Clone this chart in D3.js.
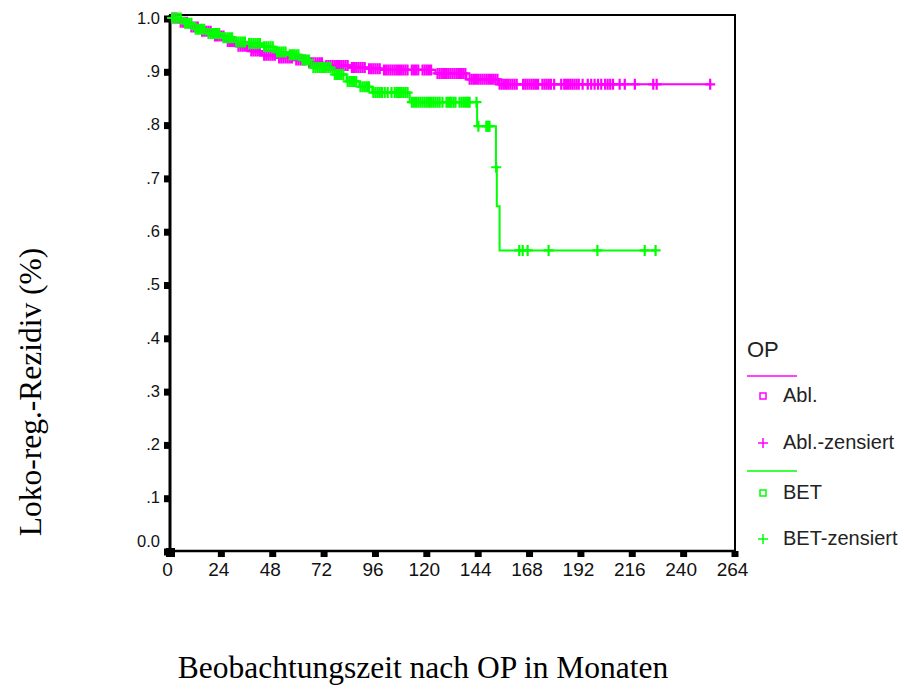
<!DOCTYPE html>
<html>
<head>
<meta charset="utf-8">
<script src="https://cdn.jsdelivr.net/npm/d3@7"></script>
<style>
  body { margin: 0; background: #fff; }
</style>
</head>
<body>
<div id="chart"></div>
<script>
// --- data ---
var xTicks = [0, 24, 48, 72, 96, 120, 144, 168, 192, 216, 240, 264];
var yTicks = [0, .1, .2, .3, .4, .5, .6, .7, .8, .9, 1];
var yTickLabels = ['0.0', '.1', '.2', '.3', '.4', '.5', '.6', '.7', '.8', '.9', '1.0'];

// Abl. : event times (months) and survival after each event
var ablTimes = [0, 4, 9, 14, 20, 26, 31, 37, 43, 50, 58, 64, 72, 84, 92, 99, 124, 138.5, 153.5];
var ablSurv  = [1.0, .992, .983, .975, .966, .956, .947, .938, .930, .925, .921, .916, .911, .907, .905, .9026, .896, .885, .8756];
var ablEnd = 252.4;
var ablCensored = [1,2,3,5,6,7,8,10,11,12,13,15,16,17,18,19,21,22,23,24,25,27,28,29,30,32,33,34,35,36,
  38,39,40,41,42,44,45,46,47,48,49,51,52,53,54,55,56,57,59,60,61,62,63,65,66,67,68,69,70,71,
  73,74,75,76,77,78,79,80,81,82,83,85,86,87,88,89,90,91,93,94,95,96,97,98,
  100,101,102,103,104,105,106,107,108,109,110,111,113,114,115,116,118,119,120,121,122,
  125,126,127,128,129,130,131,132,133,134,135,136,137,138,140,141,142,143,144,145,146,147,148,149,150,151,152,153,
  154,155,156,157,158,159,160,161,162,165,166,167,168,169,170,171,172,174,175,176,177,178,179.5,
  182.8,184.2,185,186,187,188,189,190,191,192.8,195.2,196.8,198.4,200,201.5,203.3,204.5,205.7,207,
  210.1,212.5,217.2,225.8,227.4,252.4];

// BET
var betTimes = [0, 6, 11, 17, 24, 30, 36, 43, 49, 55, 61, 66, 76, 82.5, 88.5, 94.5, 112, 143.5, 152.3, 152.7, 154];
var betSurv  = [1.0, .99, .979, .971, .963, .955, .952, .946, .936, .931, .921, .907, .894, .881, .871, .86, .842, .797, .72, .647, .564];
var betEnd = 226.9;
var betCensored = [1,2,3,4,5,7,8,9,10,12,13,14,15,16,18,19,20,21,22,23,25,26,27,28,29,31,32,33,34,35,
  37,38,39,40,41,42,44,45,46,47,48,50,51,52,53,54,56,57,58,59,60,62,63,64,65,67,68,69,70,71,72,73,74,75,
  77,78,79,80,81,83,84,85,86,87,89,90,91,92,93,95,96,97,98,99,100.3,101.7,103.5,
  105,106,107,108,109,110,111,113,114,115,116,117,118,119,120,121,122,123,124,125,126,127.3,
  129.2,130,130.8,131.5,132.5,133.4,135.3,136.3,137.3,138.3,139.2,140,143.2,
  144.1,147.8,148.3,148.8,149.3,152.4,163.2,164.8,167.1,176.9,199.7,221.8,226.9];

var legendTitle = 'OP';
var legendLabels = ['Abl.', 'Abl.-zensiert', 'BET', 'BET-zensiert'];
var xTitle = 'Beobachtungszeit nach OP in Monaten';
var yTitle = 'Loko-reg.-Rezidiv (%)';

var magenta = '#ff00ff', green = '#00ff00';

var svg = d3.select('#chart').append('svg')
    .attr('width', 904).attr('height', 690)
    .style('background', '#fff');

var x = d3.scaleLinear().domain([0, 264]).range([170, 735]);
var y = d3.scaleLinear().domain([0, 1]).range([551, 18]);

// frame
svg.append('rect')
    .attr('x', x(0)).attr('y', 15)
    .attr('width', x(264) - x(0)).attr('height', y(0) - 15)
    .attr('fill', 'none').attr('stroke', '#000').attr('stroke-width', 2);
svg.append('line').attr('x1', x(0)).attr('x2', x(0)).attr('y1', 15).attr('y2', y(0) + 1)
    .attr('stroke', '#000').attr('stroke-width', 3);
svg.append('line').attr('x1', x(0) - 3).attr('x2', x(264)).attr('y1', y(0)).attr('y2', y(0))
    .attr('stroke', '#000').attr('stroke-width', 2.5);
svg.append('rect').attr('x', x(0) - 4).attr('y', y(0) - 3).attr('width', 9).attr('height', 9).attr('fill', '#000');

// axes
var xAxis = svg.append('g')
    .attr('transform', 'translate(0,' + y(0) + ')')
    .call(d3.axisBottom(x).tickValues(xTicks).tickSize(0).tickPadding(12));
var yAxis = svg.append('g')
    .attr('transform', 'translate(' + x(0) + ',0)')
    .call(d3.axisLeft(y).tickValues(yTicks).tickSize(0).tickPadding(10)
      .tickFormat(function(d, i) { return yTickLabels[i]; }));

[xAxis, yAxis].forEach(function(g) {
  g.select('.domain').remove();
  g.selectAll('text')
      .attr('fill', '#111')
      .style('font-family', '"Liberation Sans", Arial, sans-serif');
});
xAxis.selectAll('text').style('font-size', '19px').attr('dx', -3);
yAxis.selectAll('text').style('font-size', '16.5px');
yAxis.selectAll('text').filter(function(d) { return d === 0; }).attr('dy', '-0.3em');

xAxis.selectAll('.tick').append('rect')
    .attr('x', -4).attr('y', 0).attr('width', 7).attr('height', 6).attr('fill', '#000');
yAxis.selectAll('.tick').append('rect')
    .attr('x', -6).attr('y', -3).attr('width', 6).attr('height', 7).attr('fill', '#000');

// survival curves
function levelAt(times, surv, t) {
  var i = d3.bisectRight(times, t) - 1;
  return surv[Math.max(0, i)];
}

function drawGroup(times, surv, end, censored, color) {
  var pts = times.map(function(t, i) { return [t, surv[i]]; });
  pts.push([end, surv[surv.length - 1]]);
  var line = d3.line()
      .x(function(d) { return x(d[0]); })
      .y(function(d) { return y(d[1]); })
      .curve(d3.curveStepAfter);
  svg.append('path')
      .attr('d', line(pts))
      .attr('fill', 'none')
      .attr('stroke', color)
      .attr('stroke-width', 2);

  var marks = svg.append('g');
  censored.forEach(function(t) {
    var cx = x(t), cy = y(levelAt(times, surv, t));
    marks.append('path')
        .attr('d', 'M' + (cx - 5) + ',' + cy + 'H' + (cx + 5) + 'M' + cx + ',' + (cy - 5.5) + 'V' + (cy + 5.5))
        .attr('stroke', color)
        .attr('stroke-width', 2.2)
        .attr('fill', 'none');
  });
}

drawGroup(ablTimes, ablSurv, ablEnd, ablCensored, magenta);
drawGroup(betTimes, betSurv, betEnd, betCensored, green);

// axis titles
svg.append('text')
    .attr('x', 423).attr('y', 678)
    .attr('text-anchor', 'middle')
    .style('font-family', '"Liberation Serif", "Times New Roman", serif')
    .style('font-size', '31.5px')
    .text(xTitle);
svg.append('text')
    .attr('transform', 'translate(41,392) rotate(-90)')
    .attr('text-anchor', 'middle')
    .style('font-family', '"Liberation Serif", "Times New Roman", serif')
    .style('font-size', '31.5px')
    .text(yTitle);

// legend
var leg = svg.append('g').style('font-family', '"Liberation Sans", Arial, sans-serif').attr('fill', '#222');
leg.append('text').attr('x', 747).attr('y', 357).style('font-size', '22px').text(legendTitle);
leg.append('line').attr('x1', 747).attr('x2', 797).attr('y1', 376).attr('y2', 376)
    .attr('stroke', magenta).attr('stroke-width', 1.6);
leg.append('line').attr('x1', 747).attr('x2', 797).attr('y1', 471).attr('y2', 471)
    .attr('stroke', green).attr('stroke-width', 1.6);

var legRows = [
  { y: 396, color: magenta, sym: 'square' },
  { y: 443, color: magenta, sym: 'cross' },
  { y: 493, color: green, sym: 'square' },
  { y: 539, color: green, sym: 'cross' }
];
legRows.forEach(function(r, i) {
  if (r.sym === 'square') {
    leg.append('rect').attr('x', 760).attr('y', r.y - 3).attr('width', 6).attr('height', 6)
        .attr('fill', 'none').attr('stroke', r.color).attr('stroke-width', 1.5);
  } else {
    leg.append('path').attr('d', 'M758,' + r.y + 'H768M763,' + (r.y - 5) + 'V' + (r.y + 5))
        .attr('stroke', r.color).attr('stroke-width', 1.5);
  }
  leg.append('text').attr('x', 783).attr('y', r.y + 6).style('font-size', '20px').text(legendLabels[i]);
});
</script>
</body>
</html>
